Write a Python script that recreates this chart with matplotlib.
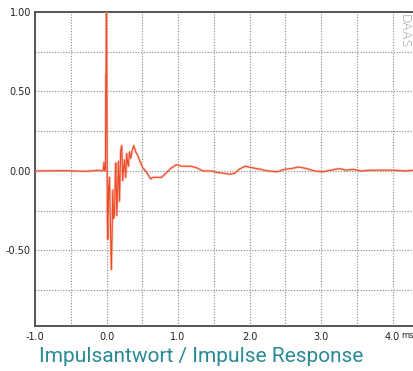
import matplotlib.pyplot as plt
import numpy as np

# time axis in ms, amplitude normalised
t_ms = [-1.0, -0.6, -0.3, -0.12, -0.06, -0.045, -0.035, -0.025, -0.014, -0.010,
        -0.006, -0.003, 0.000, 0.006, 0.012, 0.018, 0.030, 0.042, 0.055,
        0.067, 0.078, 0.088, 0.100, 0.112, 0.122, 0.130, 0.144, 0.156, 0.167,
        0.181, 0.190, 0.199, 0.213, 0.227, 0.240, 0.251, 0.269, 0.283, 0.295,
        0.307, 0.321, 0.339, 0.360, 0.381, 0.409, 0.435, 0.460, 0.506, 0.548,
        0.590, 0.618, 0.650, 0.688, 0.770, 0.840, 0.910, 0.980, 1.050, 1.180,
        1.260, 1.350, 1.460, 1.560, 1.650, 1.720, 1.790, 1.850, 1.940, 2.040,
        2.160, 2.260, 2.390, 2.480, 2.580, 2.690, 2.800, 2.910, 3.020, 3.140,
        3.250, 3.350, 3.450, 3.560, 3.700, 3.850, 4.000, 4.180, 4.300]
amp = [0.0, 0.002, -0.002, 0.004, 0.0, 0.005, 0.055, 0.0, 0.02, 0.60,
       0.62, 0.99, 1.0, 0.35, -0.30, -0.43, -0.10, -0.04, -0.35,
       -0.62, -0.40, -0.12, -0.30, -0.26, -0.05, 0.05, -0.28, -0.10, 0.06,
       -0.19, -0.02, 0.13, 0.16, -0.06, 0.02, 0.07, -0.04, 0.11, 0.05,
       0.03, 0.12, 0.08, 0.13, 0.16, 0.12, 0.10, 0.07, 0.02, 0.0,
       -0.03, -0.05, -0.04, -0.04, -0.04, -0.01, 0.02, 0.04, 0.03, 0.03,
       0.02, 0.0, 0.0, -0.01, -0.015, -0.02, -0.015, 0.01, 0.03, 0.02,
       0.01, 0.0, -0.005, 0.01, 0.015, 0.025, 0.015, 0.0, -0.005, 0.005,
       0.015, 0.005, 0.01, 0.0, 0.005, 0.005, 0.005, 0.0, 0.005]

x_ticks = [-1.0, 0.0, 1.0, 2.0, 3.0, 4.0]
y_ticks = [1.0, 0.5, 0.0, -0.5]


def main():
    fig = plt.figure(figsize=(4.14, 3.71), dpi=100)
    ax = fig.add_axes([35 / 414, 1 - 326 / 371, 1 - 35 / 414, (326 - 12) / 371])

    ax.plot(t_ms, amp, color='#f4a490', lw=1.8, alpha=0.6, zorder=3)
    ax.plot(t_ms, amp, color='#ee4a26', lw=0.8, zorder=4)

    ax.set_xlim(-1.0, 4.3)
    ax.set_ylim(-0.975, 1.0)

    ax.set_xticks(x_ticks)
    ax.set_xticklabels([f'{v:.1f}' for v in x_ticks])
    ax.set_yticks(y_ticks)
    ax.set_yticklabels([f'{v:.2f}' for v in y_ticks])
    ax.set_xticks(np.arange(-1.0, 4.3, 0.5), minor=True)
    ax.set_yticks(np.arange(-0.75, 1.0, 0.25), minor=True)
    ax.tick_params(which='both', length=0, labelsize=7, colors='#222222', pad=3)
    ax.tick_params(axis='x', pad=4)
    ax.grid(which='both', color='#888888', lw=0.8, ls=(0, (1, 1.5)), zorder=1)

    for side in ['left', 'bottom', 'top']:
        ax.spines[side].set_color('#555555')
        ax.spines[side].set_linewidth(1.4)
    ax.spines['right'].set_visible(False)

    fig.text(414 / 414, 1 - 331 / 371, 'ms', fontsize=6, color='#222222',
             ha='right', va='top')
    fig.text(405 / 414, 1 - 14 / 371, 'DAAS', rotation=270, fontsize=9,
             color='#888888', ha='center', va='top', fontweight='light')

    fig.text(201 / 414, 1 - 357 / 371, 'Impulsantwort / Impulse Response',
             fontsize=15, color='#2a8a94', ha='center', va='center',
             family='Roboto')

    fig.savefig('out.png', dpi=100)


if __name__ == '__main__':
    main()
